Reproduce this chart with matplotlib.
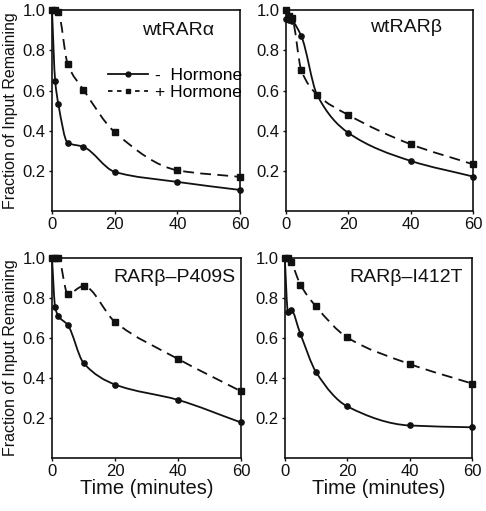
import matplotlib
matplotlib.use("Agg")
import matplotlib.pyplot as plt
from matplotlib.path import Path
from matplotlib.patches import PathPatch
from matplotlib.lines import Line2D
import numpy as np

plt.rcParams['font.family'] = ['Liberation Sans', 'DejaVu Sans']

# time points (minutes)
time_min = [0, 1, 2, 5, 10, 20, 40, 60]

panel_titles = ["wtRAR\u03b1", "wtRAR\u03b2", "RAR\u03b2\u2013P409S", "RAR\u03b2\u2013I412T"]

# fraction remaining without hormone (circles, solid)
minus_wt_alpha = [1.0, 0.65, 0.535, 0.34, 0.32, 0.195, 0.145, 0.105]
minus_wt_beta = [0.955, 0.95, 0.945, 0.87, 0.58, 0.39, 0.25, 0.172]
minus_p409s = [1.0, 0.753, 0.71, 0.665, 0.475, 0.367, 0.29, 0.177]
minus_i412t = [1.0, 0.73, 0.74, 0.62, 0.43, 0.258, 0.162, 0.153]

# fraction remaining with hormone (squares, dashed)
plus_wt_alpha = [1.0, 1.0, 0.99, 0.732, 0.605, 0.393, 0.203, 0.17]
plus_wt_beta = [1.0, 0.97, 0.96, 0.70, 0.58, 0.479, 0.333, 0.233]
plus_p409s = [1.0, 1.0, 1.0, 0.82, 0.86, 0.68, 0.495, 0.333]
plus_i412t = [1.0, 1.0, 0.98, 0.867, 0.758, 0.603, 0.47, 0.372]

minus_series = [minus_wt_alpha, minus_wt_beta, minus_p409s, minus_i412t]
plus_series = [plus_wt_alpha, plus_wt_beta, plus_p409s, plus_i412t]

legend_labels = ["-  Hormone", "+ Hormone"]


def smooth_path(x, y):
    # monotone cubic (pchip-style) tangents, drawn as bezier segments
    x = np.asarray(x, float)
    y = np.asarray(y, float)
    h = np.diff(x)
    d = np.diff(y) / h
    n = len(x)
    m = np.zeros(n)
    m[0] = d[0]
    m[-1] = d[-1]
    for k in range(1, n - 1):
        if d[k - 1] * d[k] <= 0:
            m[k] = 0.0
        else:
            w1 = 2 * h[k] + h[k - 1]
            w2 = h[k] + 2 * h[k - 1]
            m[k] = (w1 + w2) / (w1 / d[k - 1] + w2 / d[k])
    verts = [(x[0], y[0])]
    codes = [Path.MOVETO]
    for k in range(n - 1):
        dx = h[k] / 3.0
        verts += [(x[k] + dx, y[k] + m[k] * dx),
                  (x[k + 1] - dx, y[k + 1] - m[k + 1] * dx),
                  (x[k + 1], y[k + 1])]
        codes += [Path.CURVE4] * 3
    return Path(verts, codes)


fig = plt.figure(figsize=(4.86, 5.11), dpi=100)

positions = [
    [0.107, 0.587, 0.387, 0.393],
    [0.588, 0.587, 0.385, 0.393],
    [0.107, 0.104, 0.389, 0.391],
    [0.586, 0.104, 0.385, 0.391],
]
title_xy = [(0.86, 0.90), (0.835, 0.915), (0.97, 0.905), (0.95, 0.905)]

lw = 1.3
dash = (0, (6.0, 3.5))
ink = "#111111"

for i, pos in enumerate(positions):
    ax = fig.add_axes(pos)
    ax.add_patch(PathPatch(smooth_path(time_min, minus_series[i]), fill=False,
                           lw=lw, color=ink, clip_on=False))
    ax.add_patch(PathPatch(smooth_path(time_min, plus_series[i]), fill=False,
                           lw=lw, color=ink, linestyle=dash, clip_on=False))
    ax.plot(time_min, minus_series[i], 'o', ms=3.8, color=ink, clip_on=False, zorder=3)
    ax.plot(time_min, plus_series[i], 's', ms=3.8, color=ink, clip_on=False, zorder=3)

    ax.set_xlim(0, 60)
    ax.set_ylim(0, 1.0)
    ax.set_xticks([0, 20, 40, 60])
    ax.set_yticks([0.2, 0.4, 0.6, 0.8, 1.0])
    ax.set_yticklabels(["0.2", "0.4", "0.6", "0.8", "1.0"])
    ax.tick_params(direction='out', length=2.5, width=1, labelsize=12, pad=2, colors=ink)
    for s in ax.spines.values():
        s.set_linewidth(1.2)
        s.set_color(ink)

    ax.text(title_xy[i][0], title_xy[i][1], panel_titles[i], transform=ax.transAxes,
            ha='right', va='center', fontsize=14, color=ink)

    if i % 2 == 0:
        ax.set_ylabel("Fraction of Input Remaining", fontsize=11.5, labelpad=3, color=ink)
    if i >= 2:
        ax.set_xlabel("Time (minutes)", fontsize=14.5, labelpad=0, color=ink)

    if i == 0:
        handles = [
            Line2D([], [], color=ink, lw=lw, marker='o', ms=3.5),
            Line2D([], [], color=ink, lw=lw, linestyle=(0, (2.5, 2.5)), marker='s', ms=3.5),
        ]
        ax.legend(handles, legend_labels, loc='upper left', bbox_to_anchor=(0.3, 0.715),
                  frameon=False, fontsize=12.5, handlelength=2.3, handletextpad=0.4,
                  labelspacing=0.15, borderpad=0, borderaxespad=0)

fig.savefig("out.png", dpi=100)
